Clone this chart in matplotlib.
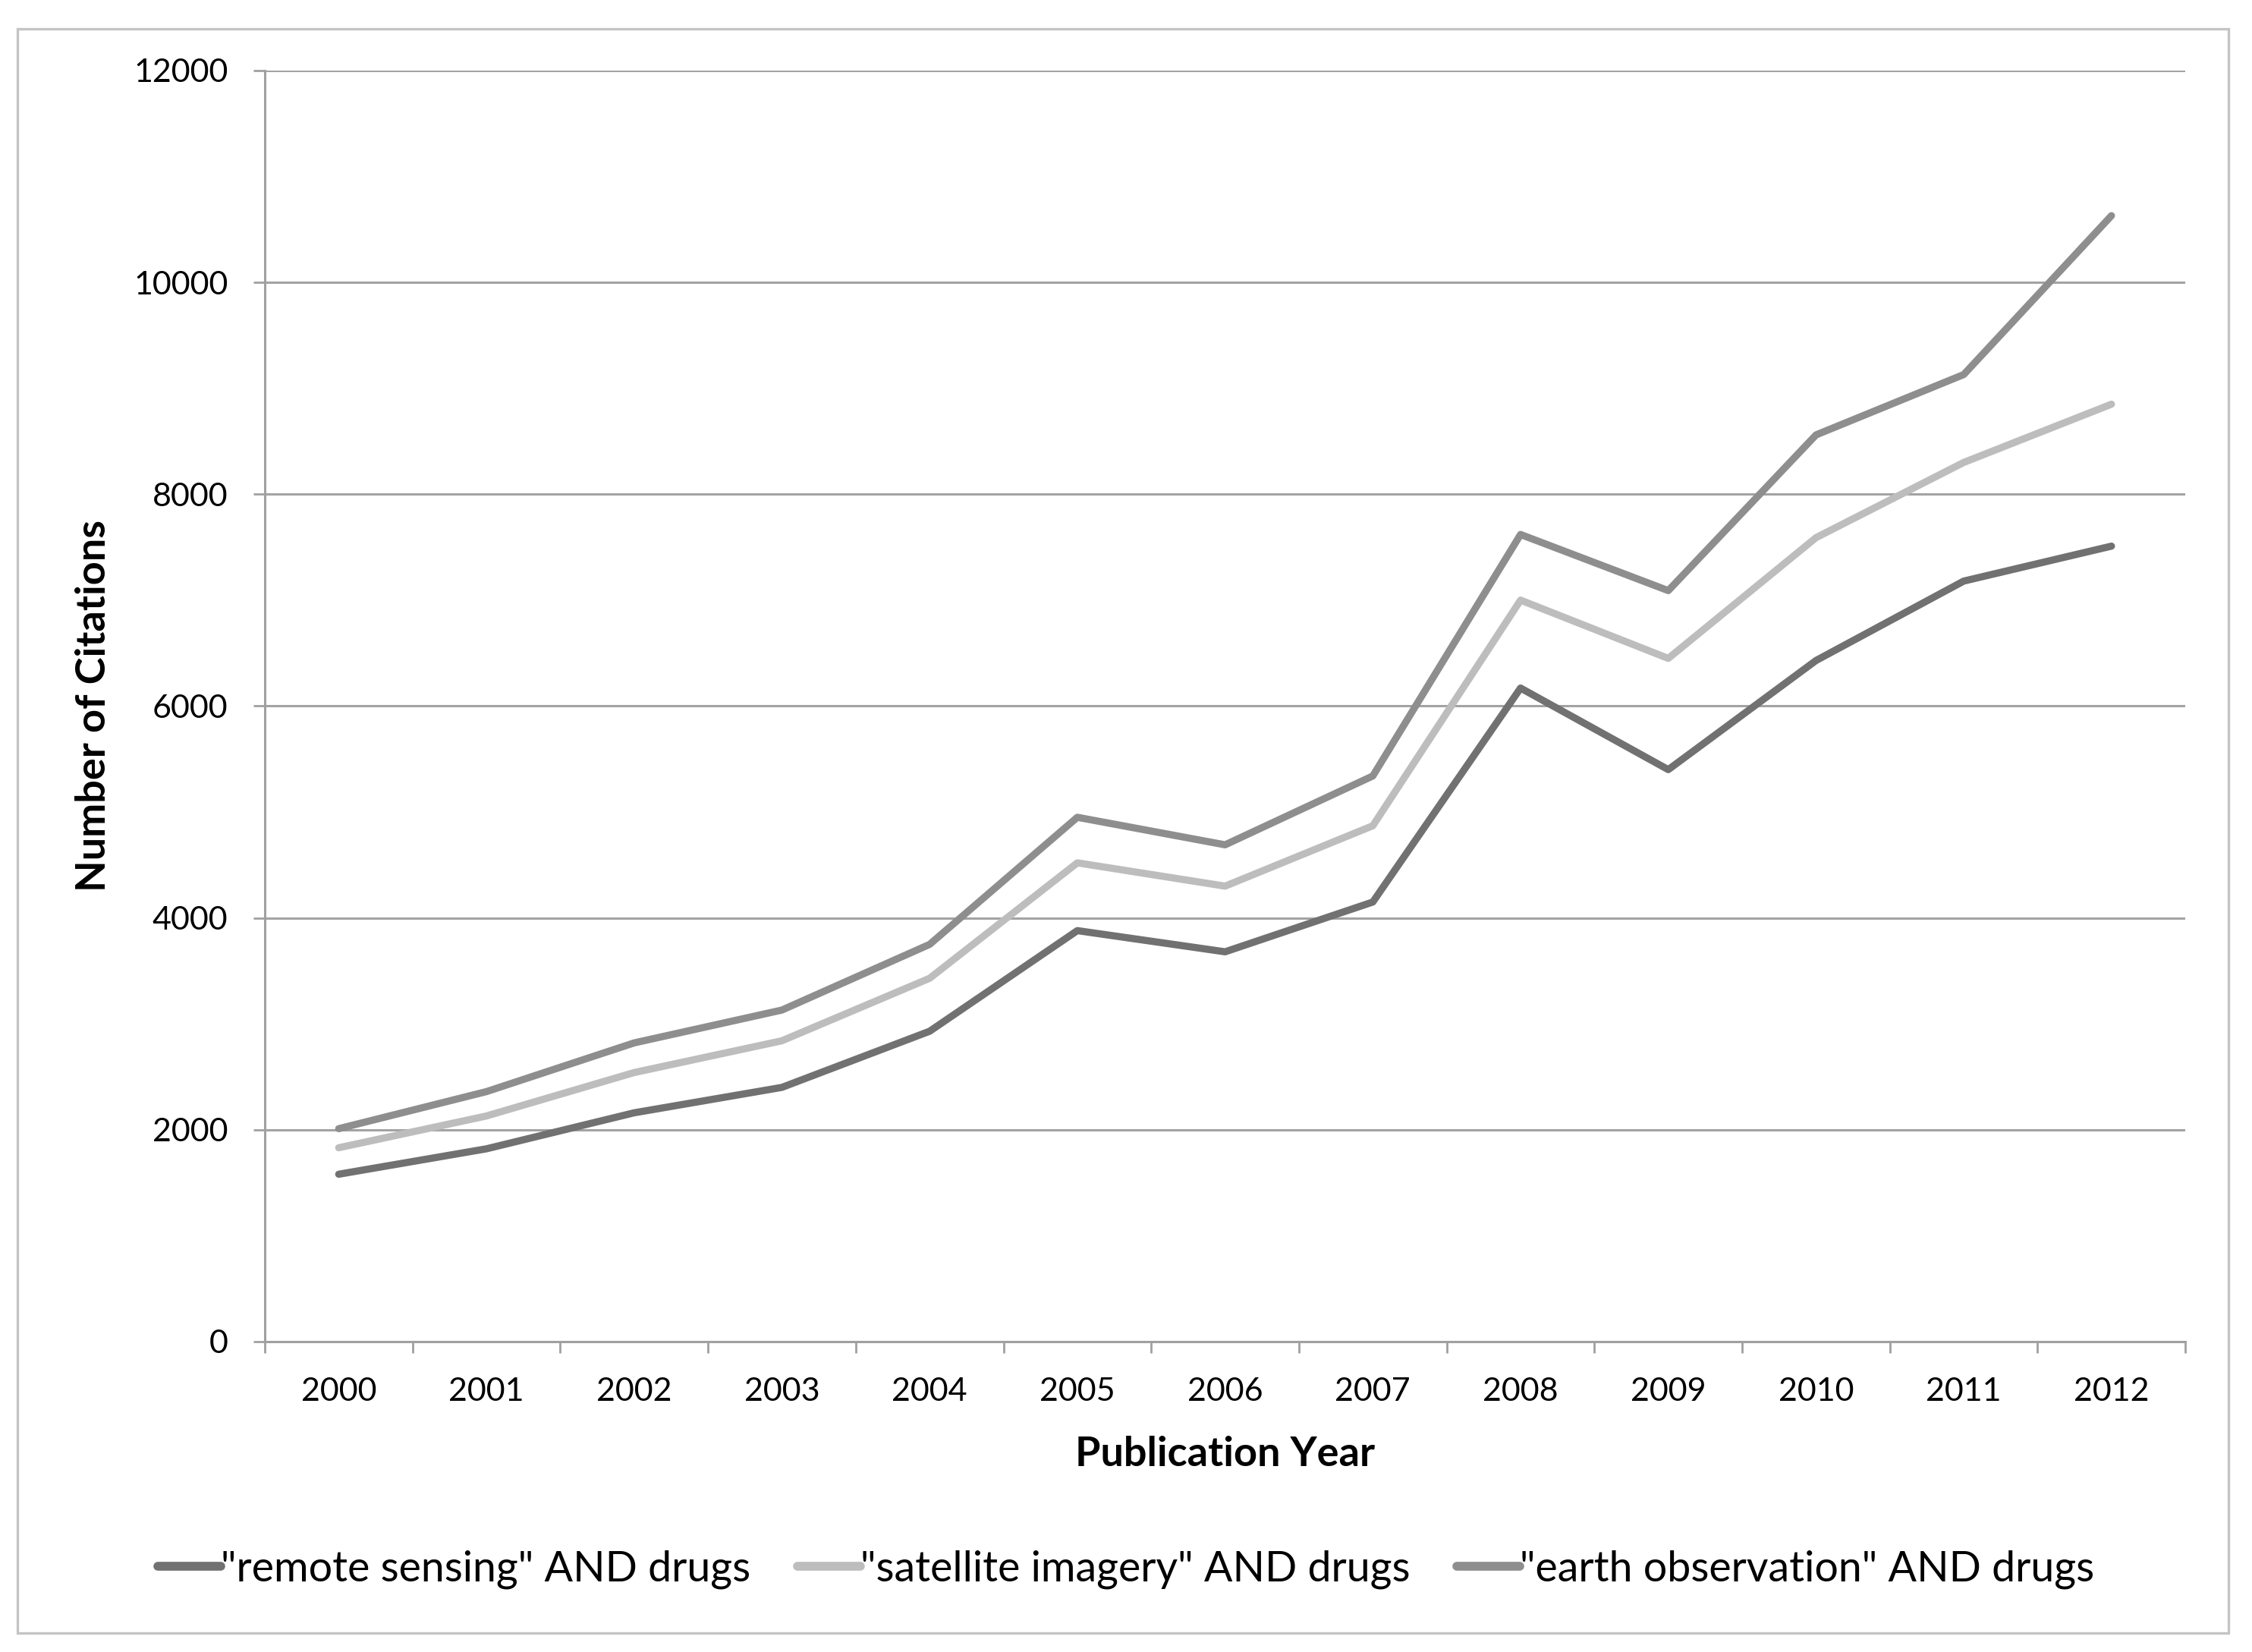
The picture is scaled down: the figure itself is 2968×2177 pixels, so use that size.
import matplotlib.pyplot as plt
from matplotlib.patches import Rectangle

# -----------------------------
# data
# -----------------------------
years = [2000, 2001, 2002, 2003, 2004, 2005, 2006, 2007, 2008, 2009, 2010, 2011, 2012]
remote_sensing = [1580, 1820, 2160, 2400, 2930, 3880, 3680, 4150, 6170, 5400, 6430, 7180, 7510]
satellite_imagery = [1830, 2130, 2540, 2840, 3430, 4520, 4300, 4870, 7000, 6450, 7590, 8300, 8850]
earth_observation = [2010, 2360, 2820, 3130, 3750, 4950, 4690, 5340, 7620, 7090, 8560, 9130, 10630]
series_labels = ['"remote sensing" AND drugs', '"satellite imagery" AND drugs',
                 '"earth observation" AND drugs']
y_ticks = [0, 2000, 4000, 6000, 8000, 10000, 12000]

plt.rcParams['font.family'] = ['Lato', 'DejaVu Sans']

fig = plt.figure(figsize=(14.84, 10.885), dpi=200)
ax = fig.add_axes([0.1176, 0.1879, 0.8528, 0.7694])

# outer frame like the spreadsheet chart area
fig.patches.append(Rectangle((23 / 2968, 1 - 2152 / 2177), (2937 - 23) / 2968, (2152 - 38) / 2177,
                             transform=fig.transFigure, fill=False, edgecolor='#c4c4c4',
                             linewidth=1.2))

x = list(range(len(years)))
colors = ['#717171', '#bdbdbd', '#8e8e8e']
for vals, lab, c in zip([remote_sensing, satellite_imagery, earth_observation], series_labels, colors):
    ax.plot(x, vals, color=c, linewidth=3.4, solid_capstyle='round', solid_joinstyle='round', label=lab)

ax.set_xlim(-0.5, len(years) - 0.5)
ax.set_ylim(0, 12000)
ax.set_yticks(y_ticks)
ax.set_yticklabels([str(v) for v in y_ticks], fontsize=15.5)
ax.set_xticks(x)
ax.set_xticklabels([str(y) for y in years], fontsize=15.5)
ax.set_xticks([i - 0.5 for i in range(len(years) + 1)], minor=True)
ax.tick_params(axis='x', which='major', length=0, pad=17)
ax.tick_params(axis='x', which='minor', length=5.5, width=1.0, color='#a0a0a0', direction='out')
ax.tick_params(axis='y', length=5.5, width=1.0, color='#a0a0a0', direction='out', pad=12)

ax.grid(axis='y', color='#a3a3a3', linewidth=1.1)
ax.set_axisbelow(True)
for s in ['top', 'right']:
    ax.spines[s].set_visible(False)
for s in ['left', 'bottom']:
    ax.spines[s].set_color('#a0a0a0')
    ax.spines[s].set_linewidth(1.1)

ax.set_xlabel('Publication Year', fontsize=19.5, fontweight='bold', labelpad=14)
ax.set_ylabel('Number of Citations', fontsize=19.5, fontweight='bold', labelpad=10)

leg = fig.legend(loc='center', bbox_to_anchor=(0.5, 1 - 2068 / 2177), ncol=3, frameon=False,
                 fontsize=20, handlelength=1.5, handletextpad=0.0, columnspacing=1.1)
for h in leg.get_lines():
    h.set_linewidth(4.2)

plt.savefig('out.png', dpi=200)
plt.close()
